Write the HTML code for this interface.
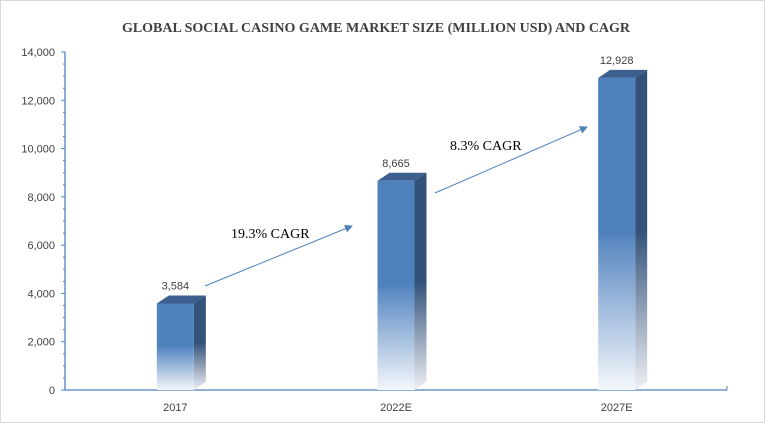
<!DOCTYPE html>
<html><head><meta charset="utf-8"><style>
body{margin:0;background:#fff}
svg{display:block}
</style></head><body>
<svg width="766" height="424" viewBox="0 0 766 424" xmlns="http://www.w3.org/2000/svg" font-family="Liberation Sans, sans-serif">
<defs>
<linearGradient id="gf" x1="0" y1="0" x2="0" y2="1">
<stop offset="0" stop-color="#4f81bd"/><stop offset="0.5" stop-color="#4f81bd"/><stop offset="0.52" stop-color="#5a89c2"/><stop offset="1" stop-color="#f4f7fb"/></linearGradient>
<linearGradient id="gs" x1="0" y1="0" x2="0" y2="1">
<stop offset="0" stop-color="#33527a"/><stop offset="0.5" stop-color="#33527a"/><stop offset="1" stop-color="#eef0f4"/></linearGradient>
<marker id="ah" markerWidth="8" markerHeight="8" refX="7" refY="4" orient="auto" markerUnits="userSpaceOnUse"><path d="M0,0 L8,4 L0,8 z" fill="#4f81bd"/></marker>
</defs>
<rect x="0.5" y="0.5" width="764" height="422" fill="#fff" stroke="#d9d9d9"/>
<text x="376" y="32" text-anchor="middle" font-family="Liberation Serif, serif" font-weight="bold" font-size="14" fill="#404040">GLOBAL SOCIAL CASINO GAME MARKET SIZE (MILLION USD) AND CAGR</text>
<g id="axes"></g>
<g id="bars"></g>
<line x1="205" y1="286" x2="352" y2="226" stroke="#4f81bd" stroke-width="1" marker-end="url(#ah)"/>
<text x="231" y="238" font-family="Liberation Serif, serif" font-size="14" fill="#000">19.3% CAGR</text>
<line x1="435" y1="193" x2="587" y2="127" stroke="#4f81bd" stroke-width="1" marker-end="url(#ah)"/>
<text x="450" y="150" font-family="Liberation Serif, serif" font-size="14" fill="#000">8.3% CAGR</text>
</svg>
<script>
const categories=["2017","2022E","2027E"];
const values=[3584,8665,12928];
const valueLabels=["3,584","8,665","12,928"];
const yTicks=[0,2000,4000,6000,8000,10000,12000,14000];
const yTickLabels=["0","2,000","4,000","6,000","8,000","10,000","12,000","14,000"];
const NS="http://www.w3.org/2000/svg";
const x0=65,x1=727,yB=390,yT=52,yMax=14000;
const y=v=>yB-(v/yMax)*(yB-yT);
const band=(x1-x0)/categories.length;
const xc=i=>x0+band*(i+0.5);
function mk(t,a,p){const e=document.createElementNS(NS,t);for(const k in a)e.setAttribute(k,a[k]);p.appendChild(e);return e;}
const ax=document.getElementById('axes'),bg=document.getElementById('bars');
const yl=mk('line',{x1:x0,y1:yT,x2:x0,y2:yB,stroke:'#4f81bd','stroke-width':1.3},ax);


const xl=mk('line',{x1:x0,y1:yB,x2:x1,y2:yB,stroke:'#4f81bd','stroke-width':1.3},ax);


mk('line',{x1:x1,y1:yB,x2:x1,y2:yB-4,stroke:'#4f81bd'},ax);
for(let v=0;v<=yMax;v+=500){const maj=v%2000===0;mk('line',{x1:x0-(maj?4:2),y1:y(v),x2:x0,y2:y(v),stroke:'#4f81bd'},ax);}
yTicks.forEach((v,i)=>{const t=mk('text',{x:x0-10,y:y(v)+4,'text-anchor':'end','font-size':11,fill:'#404040'},ax);t.textContent=yTickLabels[i];

});
categories.forEach((c,i)=>{
const w=37,d=12,dy=8,cx=xc(i),xl0=cx-w/2,top=y(values[i]),h=yB-top;
const g=mk('g',{},bg);


mk('polygon',{points:`${xl0+w},${top} ${xl0+w+d},${top-dy} ${xl0+w+d},${yB-dy} ${xl0+w},${yB}`,fill:'url(#gs)'},g);
mk('polygon',{points:`${xl0},${top} ${xl0+d},${top-dy} ${xl0+w+d},${top-dy} ${xl0+w},${top}`,fill:'#3c5f8f'},g);
mk('rect',{x:xl0,y:top,width:w,height:h,fill:'url(#gf)'},g);
const vl=mk('text',{x:cx,y:top-14,'text-anchor':'middle','font-size':11,fill:'#404040'},bg);vl.textContent=valueLabels[i];


const tl=mk('text',{x:cx,y:yB+21,'text-anchor':'middle','font-size':11,fill:'#404040'},ax);tl.textContent=c;


});
</script>
</body></html>
